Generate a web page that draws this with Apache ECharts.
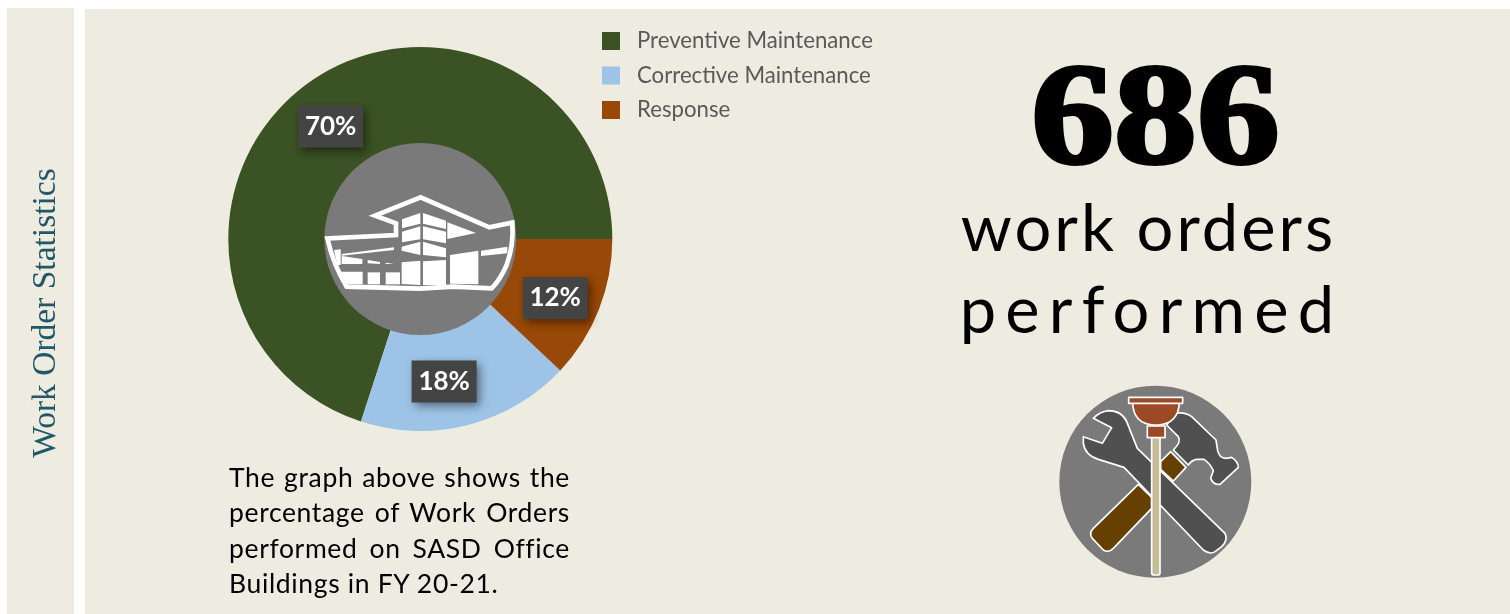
<!DOCTYPE html>
<html>
<head>
<meta charset="utf-8">
<title>Work Order Statistics</title>
<script src="https://cdn.jsdelivr.net/npm/echarts@6/dist/echarts.min.js"></script>
<style>
  html, body { margin: 0; padding: 0; background: #fff; overflow: hidden; }
  #main { position: absolute; left: 0; top: 0; width: 1510px; height: 614px; }
  .headline {
    position: absolute; left: 900px; width: 497px; text-align: center; white-space: nowrap;
    font-family: Lato, sans-serif; font-weight: 400; color: #000; font-size: 65px; line-height: 80px;
  }
  #note {
    position: absolute; left: 229px; top: 460px; width: 341px; color: #000;
    font-family: Lato, sans-serif; font-size: 26.5px; line-height: 35.4px; letter-spacing: 0.65px;
  }
  #note span { display: block; white-space: nowrap; text-align: justify; text-align-last: justify; }
  #note span:last-child { text-align-last: left; }
</style>
</head>
<body>
<div id="main"></div>
<div class="headline" style="top:186px;letter-spacing:3px">work orders</div>
<div class="headline" style="top:268px;left:903px;letter-spacing:9.2px">performed</div>
<div id="note"><span>The graph above shows the</span><span>percentage of Work Orders</span><span>performed on SASD Office</span><span>Buildings in FY 20-21.</span></div>
<script>
// Work order mix for FY 20-21
const categories = ['Preventive Maintenance', 'Corrective Maintenance', 'Response'];
const shares = [70, 18, 12];
const sliceColors = ['#3A5224', '#9DC3E6', '#984807'];
const labelNudges = [[-5, 4], [-12, 3], [1, 6]];
const totalWorkOrders = 686;

const PANEL = '#EEECE1';
const DISC = '#7A7A7A';

// Building emblem, drawn at 3x and scaled down
const buildingOutline = 'M165,92 L302,37 L508,127 L577,113 Q582,180 560,240 Q540,285 515,310 L400,305 L300,311 L80,305 Q40,240 22,160 L228,150 L228,115 Z';
const buildingPanes = [
  [246,103, 301,84, 301,116, 246,130], [309,84, 378,107, 378,132, 309,116],
  [246,140, 301,124, 301,163, 246,172], [309,124, 378,140, 378,175, 309,163],
  [245,185, 301,170, 301,210, 245,197], [309,170, 378,190, 378,217, 309,210],
  [382,112, 468,144, 382,162],
  [245,232, 301,227, 301,300, 245,297], [309,229, 378,225, 378,302, 309,300],
  [390,210, 475,197, 475,298, 390,296], [483,197, 562,185, 562,205, 483,213],
  [58,260, 128,260, 128,298, 78,298], [143,262, 180,262, 180,298, 143,298], [197,262, 240,262, 240,298, 197,298],
  [42,195, 62,193, 62,240, 52,240], [65,207, 222,187, 222,195, 65,212],
  [65,213, 127,222, 127,237, 65,237], [143,225, 180,231, 180,237, 143,235], [197,233, 222,236, 197,237]
];

// Tool emblem outlines, drawn at 3x and scaled down
const tools = [
  { fill: '#664000', d: 'M265,313 L305,352 L305,385 L190,505 Q175,520 160,510 L127,475 Q115,460 130,445 Z' },
  { fill: '#664000', d: 'M362,215 L408,262 L370,303 L332,268 L332,245 Z' },
  { fill: '#505050', d: 'M375,100 Q405,95 425,110 L498,180 L503,212 Q508,235 528,235 L545,232 Q565,245 565,262 L510,313 Q490,315 482,295 L490,272 Q480,250 462,238 L440,238 Q425,240 415,255 L370,210 Q395,185 385,170 L350,135 Z' },
  { fill: '#505050', d: 'M130,115 Q150,95 175,92 Q215,92 230,125 L262,205 L525,460 Q535,480 515,500 L495,515 Q480,525 460,510 L222,262 L145,238 Q105,225 100,190 L100,170 L157,190 L185,143 Z' },
  { fill: '#C4BD97', d: 'M305,170 L330,170 L330,578 Q330,585 322,585 L313,585 Q305,585 305,578 Z' },
  { fill: '#9C4A25', d: 'M248,68 Q250,130 310,135 L325,135 Q385,130 388,68 Z' },
  { fill: '#9C4A25', d: 'M236,52 L398,52 L398,70 L236,70 Z' },
  { fill: '#9C4A25', d: 'M292,138 L345,138 L345,173 L292,173 Z' }
];

function toPairs(flat) {
  const out = [];
  for (let i = 0; i < flat.length; i += 2) out.push([flat[i], flat[i + 1]]);
  return out;
}

// Registers an SVG path string as a shape the graphic component can use
function pathShape(name, d) {
  echarts.graphic.registerShape(name, echarts.graphic.extendPath(d));
  return name;
}

const chart = echarts.init(document.getElementById('main'));
chart.setOption({
  animation: false,
  backgroundColor: '#fff',
  legend: {
    orient: 'vertical', left: 597, top: 25, itemWidth: 18, itemHeight: 18, itemGap: 12.5,
    icon: 'rect', selectedMode: false, data: categories,
    textStyle: { fontFamily: 'Lato', fontSize: 22.2, color: '#595959', padding: [1, 0, 0, 12] }
  },
  series: [{
    type: 'pie', center: [420.3, 239], radius: [90, 192], startAngle: 0, clockwise: false,
    avoidLabelOverlap: false, silent: true,
    labelLine: { show: false },
    label: {
      show: true, position: 'inside', formatter: '{c}%',
      fontFamily: 'Lato', fontWeight: 700, fontSize: 26, color: '#fff',
      backgroundColor: '#444444', width: 65, height: 42, lineHeight: 42, align: 'center',
      shadowColor: 'rgba(0,0,0,0.5)', shadowBlur: 9, shadowOffsetX: 3, shadowOffsetY: 4
    },
    data: categories.map((name, i) => ({
      name, value: shares[i],
      itemStyle: { color: sliceColors[i] },
      label: { offset: labelNudges[i] }
    }))
  }],
  graphic: [
    { type: 'rect', z: -10, silent: true, shape: { x: 7, y: 8, width: 67, height: 606 }, style: { fill: PANEL } },
    { type: 'rect', z: -10, silent: true, shape: { x: 85, y: 9, width: 1425, height: 605 }, style: { fill: PANEL } },
    { type: 'text', z: 5, silent: true, x: 46, y: 313, rotation: Math.PI / 2,
      style: { text: 'Work Order Statistics', fill: '#215868', font: '33.5px "Liberation Serif"', textAlign: 'center', textVerticalAlign: 'middle' } },
    { type: 'text', z: 5, silent: true, x: 1155.5, y: 126, scaleX: 1.15,
      style: { text: String(totalWorkOrders), fill: '#000', stroke: '#000', lineWidth: 4, font: 'bold 144px "Liberation Serif"', textAlign: 'center', textVerticalAlign: 'middle' } },
    { type: 'circle', z: 10, silent: true, shape: { cx: 420.3, cy: 239, r: 96 }, style: { fill: DISC } },
    { type: 'group', x: 320, y: 185, scaleX: 1 / 3, scaleY: 1 / 3, silent: true, children: [
      { type: pathShape('building-outline', buildingOutline), z: 11, style: { fill: 'none', stroke: '#fff', lineWidth: 14, lineJoin: 'miter' } }
    ].concat(buildingPanes.map(p => ({ type: 'polygon', z: 11, shape: { points: toPairs(p) }, style: { fill: '#fff' } }))) },
    { type: 'circle', z: 10, silent: true, shape: { cx: 1155.3, cy: 481.7, r: 96 }, style: { fill: DISC } },
    { type: 'group', x: 1050, y: 380, scaleX: 1 / 3, scaleY: 1 / 3, silent: true,
      children: tools.map((t, i) => ({ type: pathShape('tool-' + i, t.d), z: 11 + i, style: { fill: t.fill, stroke: '#fff', lineWidth: 5, lineJoin: 'round' } })) }
  ]
});
</script>
</body>
</html>
